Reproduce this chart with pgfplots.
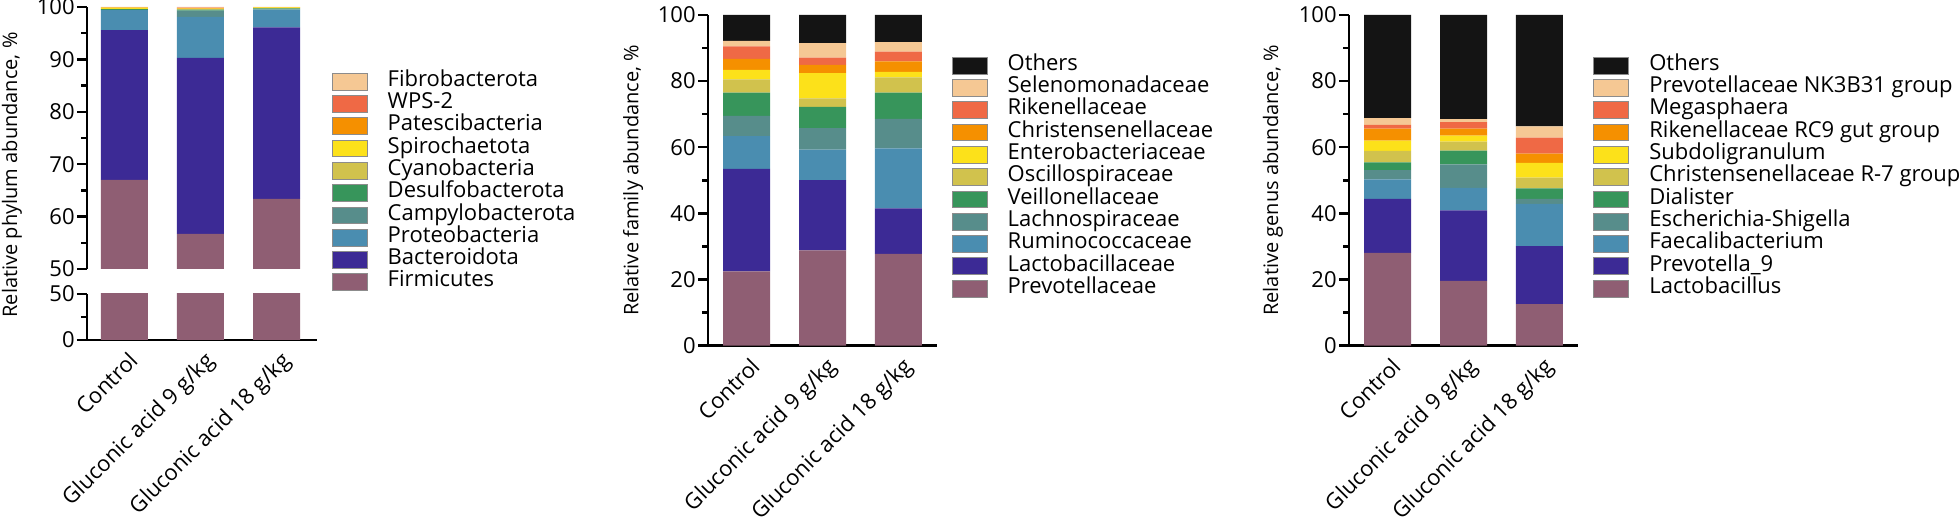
\documentclass[border=0pt]{standalone}
\usepackage{fontspec}
\setmainfont{Open Sans}
\usepackage{pgfplots}
\usepackage{pgfplotstable}
\pgfplotsset{compat=1.18}

\definecolor{cMauve}{HTML}{8F5E73}
\definecolor{cIndigo}{HTML}{3C2A95}
\definecolor{cSteel}{HTML}{4A8DB0}
\definecolor{cTeal}{HTML}{578D8B}
\definecolor{cGreen}{HTML}{37955B}
\definecolor{cOlive}{HTML}{D1C24D}
\definecolor{cYellow}{HTML}{FCE11A}
\definecolor{cOrange}{HTML}{F59000}
\definecolor{cCoral}{HTML}{EF6945}
\definecolor{cPeach}{HTML}{F5C894}
\definecolor{cBlack}{HTML}{141414}

% phylum level
\pgfplotstableread{
cat Firm Bact Prot Camp Desu Cyan Spir Pate WPS Fibr
0 67.0 28.6 3.8 0.05 0.15 0.05 0.25 0.05 0.02 0.03
1 56.7 33.6 7.8 1.2 0.2 0.1 0.1 0.1 0.1 0.1
2 63.4 32.7 3.4 0.05 0.2 0.05 0.15 0.03 0.01 0.01
}\phylum

% family level
\pgfplotstableread{
cat Prev Lact Rumi Lach Veil Osci Ente Chri Rike Sele Oth
0 22.5 31.0 9.9 6.1 7.0 4.0 2.9 3.3 3.8 1.7 7.8
1 28.8 21.3 9.2 6.5 6.4 2.6 7.6 2.5 2.2 4.4 8.5
2 27.8 13.7 18.2 8.9 7.9 4.6 1.7 3.2 2.9 2.9 8.2
}\family

% genus level
\pgfplotstableread{
cat Lact Prev Faec Esch Dial Chri Subd Rike Mega NK Oth
0 28.1 16.3 5.9 2.8 2.3 3.5 3.1 3.6 1.2 2.0 31.2
1 19.6 21.3 6.8 7.1 4.2 2.7 1.8 2.1 2.0 0.9 31.5
2 12.6 17.5 12.8 1.5 3.2 3.2 4.5 2.8 4.8 3.4 33.7
}\genus

\pgfplotsset{
  panel/.style={
    scale only axis,
    ybar stacked,
    bar width=23.5pt,
    width=114.5pt,
    axis y line*=left,
    axis x line*=bottom,
    axis line style={line width=1.4pt},
    every tick/.style={black, line width=1.2pt},
    major tick length=5pt,
    minor tick length=3pt,
    tick align=outside,
    xtick style={draw=none},
    xtick={0,1,2},
    xticklabels={Control, Gluconic acid 9 g/kg, Gluconic acid 18 g/kg},
    xticklabel style={rotate=45, anchor=north east, inner sep=1pt, xshift=2pt},
    yticklabel style={inner sep=1pt},
    tick label style={font=\fontsize{11}{13}\selectfont},
    /pgf/number format/assume math mode=true,
    label style={font=\fontsize{11.25}{13}\selectfont},
    legend image code/.code={\draw[##1, draw=black!45, line width=0.5pt] (0pt,-4.2pt) rectangle (17.5pt,4.2pt);},
    reverse legend,
    legend cell align=left,
    legend style={anchor=north west, draw=none, fill=none, inner sep=0pt, outer sep=0pt,
      row sep=0pt, column sep=0pt,
      nodes={inner sep=0pt, text height=7.9pt, text depth=3.25pt, font=\fontsize{11}{13}\selectfont},
      /tikz/every odd column/.append style={column sep=10pt}},
  },
}

\begin{document}
\begin{tikzpicture}
\useasboundingbox (0,0) rectangle (980pt,261pt);

% ---- phylum, upper part of the broken axis
\begin{axis}[panel,
  at={(43.5pt,126.5pt)}, anchor=south west,
  width=115pt, height=131pt,
  axis x line=none,
  xmin=-0.49, xmax=2.53,
  ymin=50, ymax=100,
  ytick={50,60,...,100}, minor y tick num=1,
  ylabel={Relative phylum abundance, \%},
  every axis y label/.style={at={(axis description cs:-0.326,0.359)}, rotate=90, anchor=center},
  legend style={at={(1.064,0.7576)}},
]
\addplot[fill=cMauve, draw=none] table[x=cat, y=Firm] {\phylum};
\addplot[fill=cIndigo, draw=none] table[x=cat, y=Bact] {\phylum};
\addplot[fill=cSteel, draw=none] table[x=cat, y=Prot] {\phylum};
\addplot[fill=cTeal, draw=none] table[x=cat, y=Camp] {\phylum};
\addplot[fill=cGreen, draw=none] table[x=cat, y=Desu] {\phylum};
\addplot[fill=cOlive, draw=none] table[x=cat, y=Cyan] {\phylum};
\addplot[fill=cYellow, draw=none] table[x=cat, y=Spir] {\phylum};
\addplot[fill=cOrange, draw=none] table[x=cat, y=Pate] {\phylum};
\addplot[fill=cCoral, draw=none] table[x=cat, y=WPS] {\phylum};
\addplot[fill=cPeach, draw=none] table[x=cat, y=Fibr] {\phylum};
\legend{Firmicutes, Bacteroidota, Proteobacteria, Campylobacterota, Desulfobacterota,
  Cyanobacteria, Spirochaetota, Patescibacteria, WPS-2, Fibrobacterota}
\end{axis}

% ---- phylum, lower part of the broken axis
\begin{axis}[panel,
  at={(43.5pt,91pt)}, anchor=south west,
  width=115pt, height=23pt,
  xmin=-0.49, xmax=2.53,
  ymin=0, ymax=50,
  ytick={0,50}, minor y tick num=1,
]
\addplot[fill=cMauve, draw=none] table[x=cat, y=Firm] {\phylum};
\end{axis}

% ---- family
\begin{axis}[panel,
  at={(354pt,88.15pt)}, anchor=south west,
  height=165.35pt,
  xmin=-0.507, xmax=2.507,
  ymin=0, ymax=100,
  ytick={0,20,...,100}, minor y tick num=1,
  ylabel={Relative family abundance, \%},
  every axis y label/.style={at={(axis description cs:-0.3275,0.5)}, rotate=90, anchor=center},
  legend style={at={(1.064,0.8805)}},
]
\addplot[fill=cMauve, draw=none] table[x=cat, y=Prev] {\family};
\addplot[fill=cIndigo, draw=none] table[x=cat, y=Lact] {\family};
\addplot[fill=cSteel, draw=none] table[x=cat, y=Rumi] {\family};
\addplot[fill=cTeal, draw=none] table[x=cat, y=Lach] {\family};
\addplot[fill=cGreen, draw=none] table[x=cat, y=Veil] {\family};
\addplot[fill=cOlive, draw=none] table[x=cat, y=Osci] {\family};
\addplot[fill=cYellow, draw=none] table[x=cat, y=Ente] {\family};
\addplot[fill=cOrange, draw=none] table[x=cat, y=Chri] {\family};
\addplot[fill=cCoral, draw=none] table[x=cat, y=Rike] {\family};
\addplot[fill=cPeach, draw=none] table[x=cat, y=Sele] {\family};
\addplot[fill=cBlack, draw=none] table[x=cat, y=Oth] {\family};
\legend{Prevotellaceae, Lactobacillaceae, Ruminococcaceae, Lachnospiraceae, Veillonellaceae,
  Oscillospiraceae, Enterobacteriaceae, Christensenellaceae, Rikenellaceae, Selenomonadaceae, Others}
\end{axis}

% ---- genus
\begin{axis}[panel,
  at={(674.5pt,88.15pt)}, anchor=south west,
  height=165.35pt,
  xmin=-0.507, xmax=2.507,
  ymin=0, ymax=100,
  ytick={0,20,...,100}, minor y tick num=1,
  ylabel={Relative genus abundance, \%},
  every axis y label/.style={at={(axis description cs:-0.332,0.5)}, rotate=90, anchor=center},
  legend style={at={(1.067,0.8805)}},
]
\addplot[fill=cMauve, draw=none] table[x=cat, y=Lact] {\genus};
\addplot[fill=cIndigo, draw=none] table[x=cat, y=Prev] {\genus};
\addplot[fill=cSteel, draw=none] table[x=cat, y=Faec] {\genus};
\addplot[fill=cTeal, draw=none] table[x=cat, y=Esch] {\genus};
\addplot[fill=cGreen, draw=none] table[x=cat, y=Dial] {\genus};
\addplot[fill=cOlive, draw=none] table[x=cat, y=Chri] {\genus};
\addplot[fill=cYellow, draw=none] table[x=cat, y=Subd] {\genus};
\addplot[fill=cOrange, draw=none] table[x=cat, y=Rike] {\genus};
\addplot[fill=cCoral, draw=none] table[x=cat, y=Mega] {\genus};
\addplot[fill=cPeach, draw=none] table[x=cat, y=NK] {\genus};
\addplot[fill=cBlack, draw=none] table[x=cat, y=Oth] {\genus};
\legend{Lactobacillus, Prevotella\_9, Faecalibacterium, Escherichia-Shigella, Dialister,
  Christensenellaceae R-7 group, Subdoligranulum, Rikenellaceae RC9 gut group, Megasphaera,
  Prevotellaceae NK3B31 group, Others}
\end{axis}
\end{tikzpicture}
\end{document}
